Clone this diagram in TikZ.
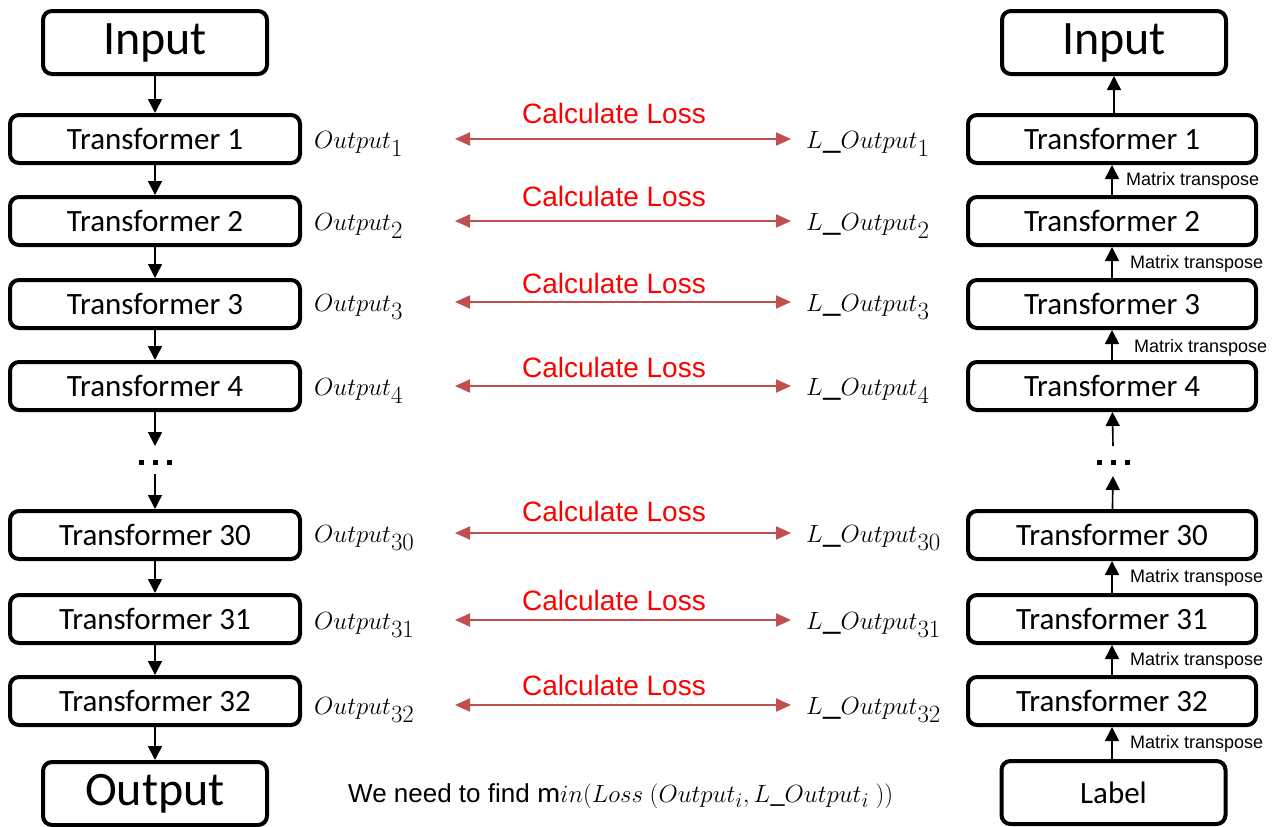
\documentclass[tikz,border=0pt]{standalone}
\usepackage{fontspec}
\setmainfont{Carlito}
\newfontfamily\arialf{Liberation Sans}
\usetikzlibrary{arrows.meta}
\definecolor{lossred}{HTML}{C0504D}
\tikzset{
  box/.style={draw, line width=4pt, rounded corners=9pt, fill=white, inner sep=0pt,
    font=\fontsize{31}{33}\selectfont},
  tbox/.style={box, minimum width=288pt, minimum height=48pt},
  bigbox/.style={box, minimum width=224pt, minimum height=63pt, font=\fontsize{48}{50}\selectfont},
  flow/.style={line width=1.6pt, -{Triangle[width=14pt,length=14pt]}},
  loss/.style={draw=lossred, line width=2pt, {Triangle[width=13pt,length=15pt]}-{Triangle[width=13pt,length=15pt]}},
  losslbl/.style={text=red, font=\arialf\fontsize{28}{30}\selectfont, inner sep=0pt},
  mtlbl/.style={font=\arialf\fontsize{18}{20}\selectfont, inner sep=0pt, anchor=west},
  outlbl/.style={font=\fontsize{36}{38}\selectfont, inner sep=0pt, anchor=west},
  dots/.style={inner sep=0pt},
}
\newcommand{\sqdots}{\rule{5pt}{5pt}\hspace{9pt}\rule{5pt}{5pt}\hspace{9pt}\rule{5pt}{5pt}}
\begin{document}
\begin{tikzpicture}[x=1pt,y=-1pt]
\useasboundingbox (0,0) rectangle (1274,827);
% left column
\node[bigbox] (inL) at (155,42.5) {Input};
\node[tbox, minimum width=290pt] (l1) at (155,139) {Transformer 1};
\node[tbox, minimum width=290pt] (l2) at (155,221) {Transformer 2};
\node[tbox, minimum width=290pt] (l3) at (155,304) {Transformer 3};
\node[tbox, minimum width=290pt] (l4) at (155,386) {Transformer 4};
\node[dots] (ldots) at (155,462) {\sqdots};
\node[tbox, minimum width=290pt] (l30) at (155,535) {Transformer 30};
\node[tbox, minimum width=290pt] (l31) at (155,619) {Transformer 31};
\node[tbox, minimum width=290pt] (l32) at (155,701) {Transformer 32};
\node[bigbox] (outL) at (155,793.5) {Output};
\coordinate (la) at (155,446);
\coordinate (lb) at (155,474);
\draw[flow] (inL) -- (l1);
\draw[flow] (l1) -- (l2);
\draw[flow] (l2) -- (l3);
\draw[flow] (l3) -- (l4);
\draw[flow] (l4) -- (la);
\draw[flow] (lb) -- (l30);
\draw[flow] (l30) -- (l31);
\draw[flow] (l31) -- (l32);
\draw[flow] (l32) -- (outL);
% right column
\node[bigbox] (inR) at (1114,42.5) {Input};
\node[tbox] (r1) at (1112,139) {Transformer 1};
\node[tbox] (r2) at (1112,221) {Transformer 2};
\node[tbox] (r3) at (1112,304) {Transformer 3};
\node[tbox] (r4) at (1112,386) {Transformer 4};
\node[dots] (rdots) at (1113,462) {\sqdots};
\node[tbox] (r30) at (1112,535) {Transformer 30};
\node[tbox] (r31) at (1112,619) {Transformer 31};
\node[tbox] (r32) at (1112,701) {Transformer 32};
\node[bigbox] (lab) at (1113.5,792.5) {\fontsize{31}{33}\selectfont Label};
\coordinate (ra) at (1113,446);
\coordinate (rb) at (1113,476);
\draw[flow] (r1.north -| inR) -- (inR);
\draw[flow] (r2) -- (r1);
\draw[flow] (r3) -- (r2);
\draw[flow] (r4) -- (r3);
\draw[flow] (ra) -- (r4);
\draw[flow] (r30) -- (rb);
\draw[flow] (r31) -- (r30);
\draw[flow] (r32) -- (r31);
\draw[flow] (lab.north -| r32) -- (r32);
\node[mtlbl] (m1) at (1126,181) {Matrix transpose};
\node[mtlbl] (m2) at (1130,264) {Matrix transpose};
\node[mtlbl] (m3) at (1134,348) {Matrix transpose};
\node[mtlbl] (m4) at (1130,578) {Matrix transpose};
\node[mtlbl] (m5) at (1130,661) {Matrix transpose};
\node[mtlbl] (m6) at (1130,744) {Matrix transpose};
% middle rows
\foreach \y/\i/\ly in {139/1/113, 221/2/196, 302/3/283, 386/4/367, 533/30/511, 620/31/600, 705/32/685}{
  \node[outlbl] (o\i) at (314,\y+5) {$Output_{\i}$};
  \node[outlbl] (lo\i) at (806,\y+5) {$L\_Output_{\i}$};
  \coordinate (ca\i) at (455,\y);
  \coordinate (cb\i) at (791,\y);
  \draw[loss] (ca\i) -- (cb\i);
  \node[losslbl] (cl\i) at (614,\ly) {Calculate Loss};
}
\node[anchor=west, inner sep=0pt] (bottom) at (348,796)
  {{\arialf\fontsize{26}{28}\selectfont We need to find }\fontsize{29}{31}\selectfont$\mathrm{m}in(Loss\ (Output_i, L\_Output_i\ ))$};
\end{tikzpicture}
\end{document}
